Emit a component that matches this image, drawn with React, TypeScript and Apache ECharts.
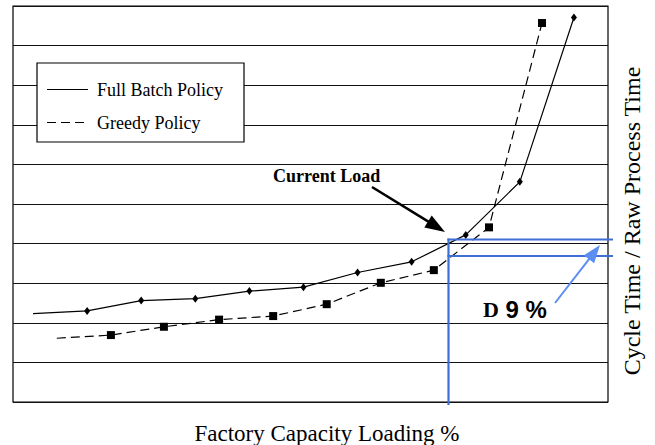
import React, { useEffect, useRef } from "react";
import * as echarts from "echarts";

const fullX = [1, 2, 3, 4, 5, 6, 7, 8, 9, 10, 11];
const fullY = [2.23, 2.3, 2.56, 2.61, 2.8, 2.9, 3.27, 3.54, 4.22, 5.56, 9.71];
const greedyX = [1.44, 2.44, 3.42, 4.44, 5.44, 6.43, 7.43, 8.41, 9.43, 10.41];
const greedyY = [1.61, 1.69, 1.9, 2.08, 2.17, 2.47, 3.01, 3.33, 4.41, 9.57];
const seriesNames = ["Full Batch Policy", "Greedy Policy"];
const xTitle = "Factory Capacity Loading %";
const yTitle = "Cycle Time / Raw Process Time";

const SERIF = "'Liberation Serif', 'Times New Roman', serif";
const SANS = "'Liberation Sans', Arial, sans-serif";

export default function App() {
  const ref = useRef<HTMLDivElement>(null);
  useEffect(() => {
    if (!ref.current) return;
    const chart = echarts.init(ref.current, null, { renderer: "svg" });
    const fullData = fullX.map((x, i) =>
      i === 0 ? { value: [x, fullY[i]], symbol: "none" } : { value: [x, fullY[i]] }
    );
    const greedyData = greedyX.map((x, i) =>
      i === 0 ? { value: [x, greedyY[i]], symbol: "none" } : { value: [x, greedyY[i]] }
    );
    const blue = "#3f6fd6";
    const lightBlue = "#5b8df2";
    chart.setOption({
      animation: false,
      backgroundColor: "#fff",
      grid: {
        left: 13,
        right: 47,
        top: 6,
        bottom: 43,
        show: true,
        borderColor: "#000",
        borderWidth: 1.2,
        backgroundColor: "transparent",
      },
      xAxis: {
        type: "value",
        min: 0.63,
        max: 11.63,
        axisLabel: { show: false },
        axisTick: { show: false },
        axisLine: { show: false },
        splitLine: { show: false },
      },
      yAxis: {
        type: "value",
        min: 0,
        max: 10,
        interval: 1,
        axisLabel: { show: false },
        axisTick: { show: false },
        axisLine: { show: false },
        splitLine: { show: true, lineStyle: { color: "#111", width: 1.2 } },
      },
      series: [
        {
          name: seriesNames[0],
          type: "line",
          data: fullData,
          symbol: "diamond",
          symbolSize: [6, 8],
          itemStyle: { color: "#000" },
          lineStyle: { color: "#000", width: 1.2 },
          z: 3,
        },
        {
          name: seriesNames[1],
          type: "line",
          data: greedyData,
          symbol: "rect",
          symbolSize: 8,
          itemStyle: { color: "#000" },
          lineStyle: { color: "#000", width: 1.2, type: [9, 5] },
          z: 3,
        },
      ],
      graphic: [
        // legend
        {
          type: "rect",
          z: 100,
          shape: { x: 37, y: 63, width: 207, height: 79 },
          style: { fill: "#fff", stroke: "#000", lineWidth: 1.2 },
        },
        {
          type: "line",
          z: 101,
          shape: { x1: 47, y1: 89.5, x2: 88, y2: 89.5 },
          style: { stroke: "#000", lineWidth: 1.2 },
        },
        {
          type: "line",
          z: 101,
          shape: { x1: 47, y1: 122.5, x2: 88, y2: 122.5 },
          style: { stroke: "#000", lineWidth: 1.2, lineDash: [9, 5] },
        },
        {
          type: "text",
          z: 101,
          x: 97,
          y: 89.5,
          style: { text: seriesNames[0], font: `18px ${SERIF}`, fill: "#000", verticalAlign: "middle", align: "left" },
        },
        {
          type: "text",
          z: 101,
          x: 97,
          y: 122.5,
          style: { text: seriesNames[1], font: `18px ${SERIF}`, fill: "#000", verticalAlign: "middle", align: "left" },
        },
        // axis titles
        {
          type: "text",
          z: 101,
          x: 327,
          y: 433,
          style: { text: xTitle, font: `23px ${SERIF}`, fill: "#000", align: "center", verticalAlign: "middle" },
        },
        {
          type: "text",
          z: 101,
          x: 632,
          y: 221,
          rotation: Math.PI / 2,
          style: { text: yTitle, font: `24px ${SERIF}`, fill: "#000", align: "center", verticalAlign: "middle" },
        },
        // Current Load annotation
        {
          type: "text",
          z: 101,
          x: 273,
          y: 176,
          style: { text: "Current Load", font: `bold 18px ${SERIF}`, fill: "#000", align: "left", verticalAlign: "middle" },
        },
        {
          type: "line",
          z: 101,
          shape: { x1: 372, y1: 187, x2: 430, y2: 222.6 },
          style: { stroke: "#000", lineWidth: 2.5 },
        },
        {
          type: "polygon",
          z: 101,
          shape: { points: [[445, 232], [431.7, 215.5], [424.3, 227.5]] },
          style: { fill: "#000" },
        },
        // blue lines
        {
          type: "line",
          z: 102,
          shape: { x1: 448.5, y1: 238.5, x2: 448.5, y2: 405 },
          style: { stroke: blue, lineWidth: 2.2 },
        },
        {
          type: "line",
          z: 102,
          shape: { x1: 447.5, y1: 239.5, x2: 613, y2: 239.5 },
          style: { stroke: blue, lineWidth: 2.2 },
        },
        {
          type: "line",
          z: 102,
          shape: { x1: 447.5, y1: 256, x2: 613, y2: 256 },
          style: { stroke: blue, lineWidth: 2.2 },
        },
        {
          type: "line",
          z: 102,
          shape: { x1: 555, y1: 303, x2: 591, y2: 256.7 },
          style: { stroke: lightBlue, lineWidth: 2 },
        },
        {
          type: "polygon",
          z: 102,
          shape: { points: [[600, 245], [594.1, 263.2], [583.9, 255.2]] },
          style: { fill: lightBlue },
        },
        {
          type: "text",
          z: 102,
          x: 483,
          y: 309,
          style: {
            text: "{d|D}{n| 9 %}",
            align: "left",
            verticalAlign: "middle",
            rich: {
              d: { font: `bold 22px ${SERIF}`, fill: "#000" },
              n: { font: `bold 24px ${SANS}`, fill: "#000" },
            },
          },
        },
      ],
    });
    return () => chart.dispose();
  }, []);
  return (
    <div
      ref={ref}
      style={{ position: "absolute", left: 0, top: 0, width: 655, height: 445 }}
    />
  );
}
